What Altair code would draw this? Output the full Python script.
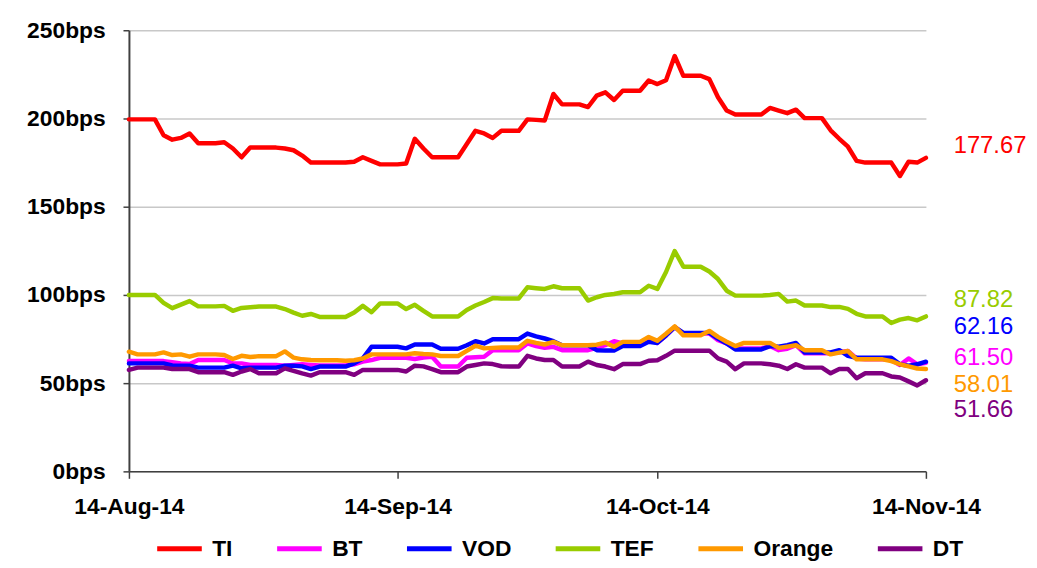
import altair as alt
import pandas as pd

# ---- data (daily) ----
dates = pd.date_range("2014-08-14", "2014-11-14", freq="D").strftime("%Y-%m-%d").tolist()

series = ["TI", "BT", "VOD", "TEF", "Orange", "DT"]
colors = ["#FF0000", "#FF00FF", "#0000FF", "#99CC00", "#FF9900", "#800080"]

ti = [199.5,199.5,199.5,199.5,190.5,188,189,
      191.5,186,186,186,186.5,183,178,
      183.5,183.5,183.5,183.5,183,182,179,
      175,175,175,175,175,175.5,178,
      176,174,174,174,174.5,188.5,183,
      178,178,178,178,185.5,193,191.5,
      189,193,193,193,199.5,199.2,198.9,
      213.9,208,208,208,206.5,213,214.8,
      210.5,215.7,215.7,215.7,221.5,219.5,221.7,
      235.4,224.2,224.2,224.2,222.3,212,204.5,
      202.2,202.2,202.2,202.2,206,204.5,203,
      205,200.2,200.2,200.2,193.3,188.5,184,
      176,175,175,175,175,167.4,175.5,
      175,177.67]

tef = [100,100,100,100,95.5,92.5,94.5,
       96.5,93.5,93.5,93.5,93.8,91,92.6,
       93,93.4,93.4,93.4,92,90,88.2,
       89.2,87.5,87.5,87.5,87.5,90,93.8,
       90.2,95.2,95.2,95.2,92,94.4,91,
       87.8,87.8,87.8,87.8,91.5,94,96,
       98.2,98,98,98,104.3,103.8,103.4,
       104.9,103.8,103.8,103.8,96.8,98.7,100,
       100.5,101.5,101.5,101.5,105.2,103.4,113,
       124.9,116,116,116,113.3,109,102.4,
       99.6,99.6,99.6,99.6,100,100.6,96.2,
       96.8,94,94,94,93.1,93.2,92.1,
       89.3,87.8,87.8,87.8,84.1,86,86.9,
       85.6,87.82]

orange = [67.8,66.3,66.3,66.3,67.4,65.9,66.3,
          65,66.3,66.3,66.3,66,63.7,65.5,
          64.8,65.3,65.3,65.3,68,64.5,63.5,
          63.1,63,63,63,62.7,63,64,
          66.3,66.3,66.3,66.3,66.3,66.9,66.5,
          66.3,65.4,65.4,65.4,68.3,71.2,69.7,
          70,70.2,70.2,70.2,74,72.8,71.9,
          73.4,71.5,71.5,71.5,71.5,71.8,73,
          70.6,73.4,73.4,73.4,76.2,74,78,
          82.2,77.1,77.1,77.1,79.6,76.2,73.5,
          71,72.8,72.8,72.8,72.8,70,70.7,
          71.5,68.7,68.7,68.7,66.3,67.3,68.2,
          63.5,63.5,63.5,63.5,62.5,60.7,59.5,
          58.3,58.01]

vod = [61.2,61.2,61.2,61.2,61.2,60,59.9,
       59.9,58.8,58.8,58.8,58.8,59.9,58.4,
       58.8,58.8,58.8,58.8,59.9,59.9,59.5,
       58,59.4,59.4,59.4,59.4,61.2,64,
       70.6,70.6,70.6,70.6,69.7,71.9,71.9,
       71.9,69.5,69.5,69.5,71.5,73.8,72.5,
       74.9,74.9,74.9,74.9,78.1,76.5,75.3,
       73.8,71.5,71.5,71.5,71.5,68.7,68.5,
       68.5,71,71,71,73.4,72.8,77,
       81.8,78.5,78.5,78.5,78.5,75.3,72.5,
       69.1,69.1,69.1,69.1,71,70.7,71.5,
       72.8,67.4,67.4,67.4,67.4,68.7,65.5,
       64.4,64.4,64.4,64.4,64.4,60.7,59.9,
       60.7,62.16]

bt = [62.5,62.5,62.5,62.5,62.5,61.8,61.2,
      60.8,63.1,63.1,63.1,63.1,61.2,61.2,
      60.3,60.3,60.3,60.3,59.9,60.3,60.7,
      60.3,60,60,60,60,60.7,62.2,
      63.1,64.4,64.4,64.4,64.4,63.7,64.5,
      65,59.4,59.4,59.4,64.4,64.7,65,
      68.7,68.7,68.7,68.7,72.5,71,70,
      70.6,68.7,68.7,68.7,68.7,70,71.5,
      73.8,72.5,72.5,72.5,75.3,72.8,77,
      81.8,78.1,78.1,78.1,78.1,74.3,72.5,
      69.7,69.7,69.7,69.7,71,68.7,69.5,
      71.5,66.9,66.9,66.9,66.9,67.5,68.2,
      64,63.5,63.5,63.5,63.1,60.3,64,
      60.7,61.5]

dt = [57.5,58.8,58.8,58.8,58.8,58,58,
      58,56.2,56.2,56.2,56.2,54.7,56.6,
      58,55.6,55.6,55.6,58.4,57,55.5,
      54.3,56.2,56.2,56.2,56.2,54.7,57.5,
      57.5,57.5,57.5,57.5,56.6,59.9,59.5,
      58,56.2,56.2,56.2,59.4,60.3,61.2,
      60.8,59.6,59.4,59.4,65.5,64,63.1,
      63.1,59.4,59.4,59.4,62.2,60.3,59.4,
      57.9,60.8,60.8,60.8,62.7,63,65.5,
      68.4,68.4,68.4,68.4,68.4,64,62.2,
      57.9,61.2,61.2,61.2,60.7,59.9,58,
      60.7,58.8,58.8,58.8,55.6,58,58,
      52.8,55.6,55.6,55.6,53.8,53.2,51,
      48.7,51.66]

# end-of-series labels (text) and their vertical placement in bps units
end_labels = ["177.67", "61.50", "62.16", "87.82", "58.01", "51.66"]
end_label_y = [184.3, 64, 82, 97.2, 48.9, 34.8]

# ---- build tables ----
rows = []
for name, vals in zip(series, [ti, bt, vod, tef, orange, dt]):
    for d, v in zip(dates, vals):
        rows.append({"date": d, "series": name, "bps": v})
df = pd.DataFrame(rows)

lab = pd.DataFrame({"series": series, "label": end_labels, "ypos": end_label_y,
                    "date": [dates[-1]] * len(series)})

FONT = "Liberation Sans"
FS = 23
color_scale = alt.Scale(domain=series, range=colors)
x_scale = alt.Scale(type="utc",
                    domain=[alt.DateTime(year=2014, month=8, date=14, utc=True),
                            alt.DateTime(year=2014, month=11, date=14, utc=True)])
tick_vals = [alt.DateTime(year=2014, month=m, date=14, utc=True) for m in (8, 9, 10, 11)]

lines = alt.Chart(df).mark_line(strokeWidth=4.5, strokeJoin="round", strokeCap="round").encode(
    x=alt.X("date:T", scale=x_scale,
            axis=alt.Axis(values=tick_vals, format="%d-%b-%y", title=None, grid=False,
                          labelFlush=False, labelOverlap=False,
                          labelFont=FONT, labelFontSize=FS, labelFontWeight="bold",
                          labelColor="#000000", labelPadding=18, tickSize=7, tickWidth=1.5,
                          tickColor="#404040", domainColor="#404040", domainWidth=1.5)),
    y=alt.Y("bps:Q", scale=alt.Scale(domain=[0, 250]),
            axis=alt.Axis(values=[0, 50, 100, 150, 200, 250], labelExpr="datum.value + 'bps'",
                          title=None, labelFont=FONT, labelFontSize=FS, labelFontWeight="bold",
                          labelColor="#000000", labelPadding=18, tickSize=6, tickWidth=1.5,
                          tickColor="#404040", domainColor="#404040", domainWidth=2,
                          gridColor="#c8c8c8", gridWidth=1.5)),
    color=alt.Color("series:N", scale=color_scale, sort=series,
                    legend=alt.Legend(orient="none", legendX=26, legendY=498,
                                      direction="horizontal", title=None,
                                      symbolType="stroke", symbolSize=2025, symbolStrokeWidth=5,
                                      labelFont=FONT, labelFontSize=FS, labelFontWeight="bold",
                                      labelColor="#000000", columnPadding=34, labelOffset=8)),
)

labels = alt.Chart(lab).mark_text(align="left", baseline="middle", dx=28, font=FONT,
                                   fontSize=24).encode(
    x=alt.X("date:T", scale=x_scale),
    y=alt.Y("ypos:Q", scale=alt.Scale(domain=[0, 250])),
    text="label:N",
    color=alt.Color("series:N", scale=color_scale, legend=None),
)

chart = alt.layer(lines, labels).properties(
    width=804, height=445, background="white",
    padding={"left": 18, "top": 9, "right": 2, "bottom": 2}
).configure_view(stroke=None)

chart.save("out.html", embed_options={"renderer": "svg", "actions": False})
